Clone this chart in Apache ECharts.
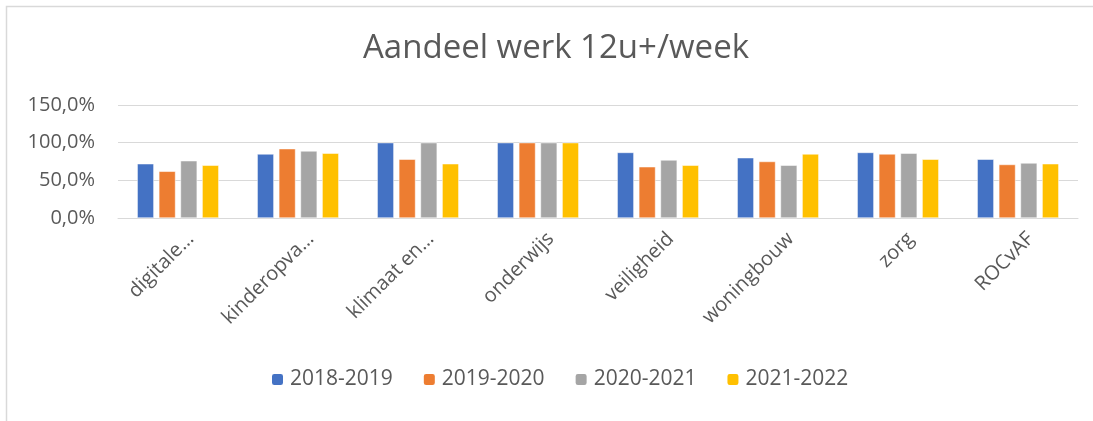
<!DOCTYPE html>
<html>
<head>
<meta charset="utf-8">
<script src="https://cdn.jsdelivr.net/npm/echarts@6/dist/echarts.min.js"></script>
<style>
  html, body { margin: 0; padding: 0; background: #fff; }
  #chart { width: 1093px; height: 421px; }
</style>
</head>
<body>
<div id="chart"></div>
<script>
const categories = ['digitale…', 'kinderopva…', 'klimaat en…', 'onderwijs', 'veiligheid', 'woningbouw', 'zorg', 'ROCvAF'];
const years = ['2018-2019', '2019-2020', '2020-2021', '2021-2022'];
const s2018 = [72, 85, 100, 100, 87, 80, 87, 78];
const s2019 = [62, 92, 78, 100, 68, 75, 85, 71];
const s2020 = [76, 89, 100, 100, 77, 70, 86, 73];
const s2021 = [70, 86, 72, 100, 70, 85, 78, 72];
const colors = ['#4472c4', '#ed7d31', '#a5a5a5', '#ffc000'];

const chart = echarts.init(document.getElementById('chart'));
const font = '"Open Sans", Lato, sans-serif';

chart.setOption({
  animation: false,
  color: colors,
  title: {
    text: 'Aandeel werk 12u+/week',
    left: 358,
    top: 27,
    textStyle: { fontFamily: font, fontSize: 33, fontWeight: 'normal', color: '#595959' }
  },
  legend: {
    bottom: 26,
    left: 265,
    itemWidth: 13,
    itemHeight: 13,
    itemGap: 29,
    textStyle: { fontFamily: font, fontSize: 21, color: '#595959', padding: [0, 0, 0, 1] },
    data: years
  },
  grid: { left: 118, right: 15, top: 105, bottom: 203, containLabel: false },
  xAxis: {
    type: 'category',
    data: categories,
    axisTick: { show: false },
    axisLine: { lineStyle: { color: '#d9d9d9', width: 1 } },
    axisLabel: {
      rotate: 45, fontFamily: font, fontSize: 20, color: '#595959',
      margin: 5, interval: 0, verticalAlign: 'top', lineHeight: 36
    }
  },
  yAxis: {
    type: 'value',
    min: 0,
    max: 150,
    interval: 50,
    axisLine: { show: false },
    axisTick: { show: false },
    splitLine: { lineStyle: { color: '#d9d9d9', width: 1 } },
    axisLabel: {
      fontFamily: font, fontSize: 20, color: '#595959', margin: 23,
      formatter: v => v.toFixed(1).replace('.', ',') + '%'
    }
  },
  series: [s2018, s2019, s2020, s2021].map((d, i) => ({
    name: years[i],
    type: 'bar',
    data: d,
    barGap: '30%',
    barCategoryGap: '32%',
    itemStyle: { borderColor: '#fff', borderWidth: 0.5 }
  })),
  graphic: [{
    type: 'rect',
    shape: { x: 6.5, y: 6.5, width: 1100, height: 430 },
    style: { fill: 'none', stroke: '#d9d9d9', lineWidth: 1.5 },
    silent: true
  }]
});
</script>
</body>
</html>
